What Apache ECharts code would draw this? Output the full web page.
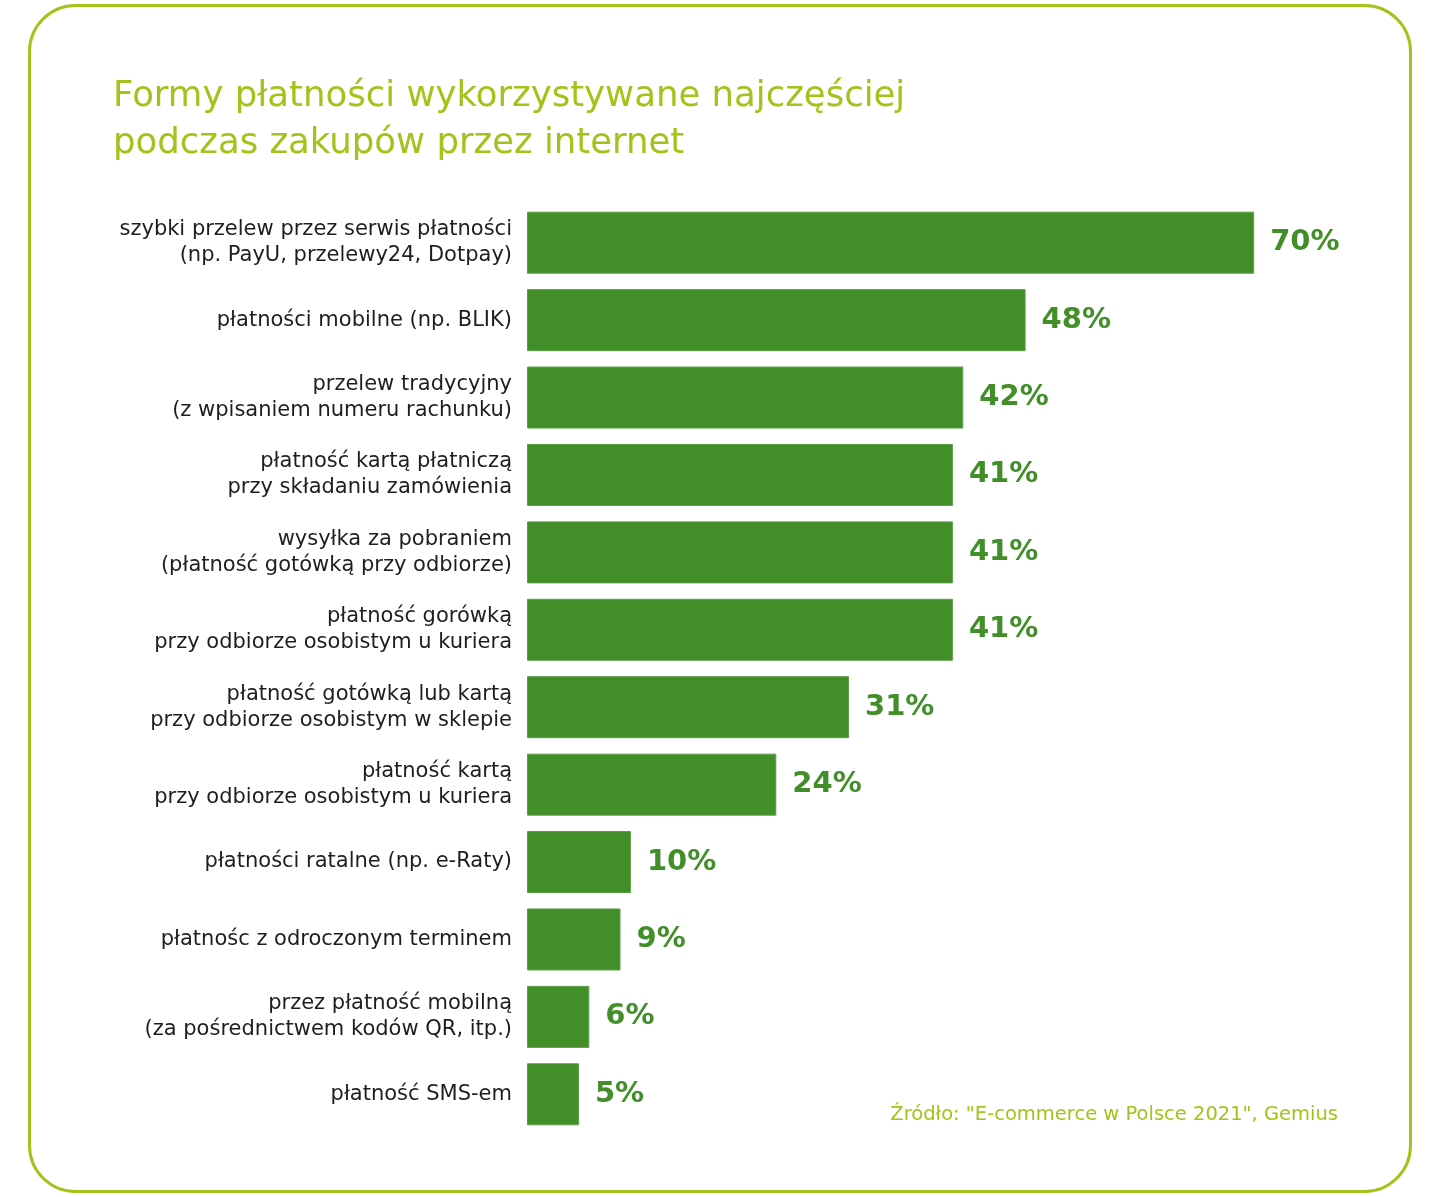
<!DOCTYPE html>
<html>
<head>
<meta charset="utf-8">
<script src="https://cdn.jsdelivr.net/npm/echarts@6/dist/echarts.min.js"></script>
<style>
  html, body { margin: 0; padding: 0; background: #fff; }
  #chart { width: 1440px; height: 1197px; }
</style>
</head>
<body>
<div id="chart"></div>
<script>
// dane: formy płatności (kolejność od góry)
var categories = [
  'szybki przelew przez serwis płatności\n(np. PayU, przelewy24, Dotpay)',
  'płatności mobilne (np. BLIK)',
  'przelew tradycyjny\n(z wpisaniem numeru rachunku)',
  'płatność kartą płatniczą\nprzy składaniu zamówienia',
  'wysyłka za pobraniem\n(płatność gotówką przy odbiorze)',
  'płatność gorówką\nprzy odbiorze osobistym u kuriera',
  'płatność gotówką lub kartą\nprzy odbiorze osobistym w sklepie',
  'płatność kartą\nprzy odbiorze osobistym u kuriera',
  'płatności ratalne (np. e-Raty)',
  'płatnośc z odroczonym terminem',
  'przez płatność mobilną\n(za pośrednictwem kodów QR, itp.)',
  'płatność SMS-em'
];
var values = [70, 48, 42, 41, 41, 41, 31, 24, 10, 9, 6, 5];

var titleText = 'Formy płatności wykorzystywane najczęściej\npodczas zakupów przez internet';
var sourceText = 'Źródło: "E-commerce w Polsce 2021", Gemius';

var lime = '#a3c31a';
var green = '#428f29';
var ink = '#1e1e1e';
var font = '"DejaVu Sans", sans-serif';

var chart = echarts.init(document.getElementById('chart'), null, { renderer: 'canvas' });
chart.setOption({
  animation: false,
  backgroundColor: '#ffffff',
  title: {
    text: titleText,
    left: 108, top: 68,
    textStyle: { color: lime, fontSize: 35.5, fontWeight: 'normal', fontFamily: font, lineHeight: 47 }
  },
  graphic: [
    {
      type: 'rect',
      shape: { x: 29.5, y: 5.5, width: 1381, height: 1186, r: 46 },
      style: { fill: 'none', stroke: lime, lineWidth: 3 },
      silent: true
    },
    {
      type: 'text',
      right: 102, top: 1105,
      style: { text: sourceText, fill: lime, fontSize: 19.5, fontFamily: font }
    }
  ],
  grid: { left: 527, right: 82, top: 204, height: 929, containLabel: false },
  xAxis: {
    type: 'value', min: 0, max: 80,
    show: false
  },
  yAxis: {
    type: 'category',
    data: categories,
    inverse: true,
    axisLine: { show: false },
    axisTick: { show: false },
    axisLabel: {
      margin: 15, color: ink, fontSize: 21, lineHeight: 26, fontFamily: font, align: 'right'
    }
  },
  series: [{
    type: 'bar',
    data: values,
    barWidth: 62,
    itemStyle: { color: green, borderColor: '#5a9e45', borderWidth: 1 },
    label: {
      show: true, position: 'right', distance: 16,
      formatter: '{c}%', color: green, fontSize: 29, fontWeight: 'bold', fontFamily: font
    }
  }]
});
</script>
</body>
</html>
